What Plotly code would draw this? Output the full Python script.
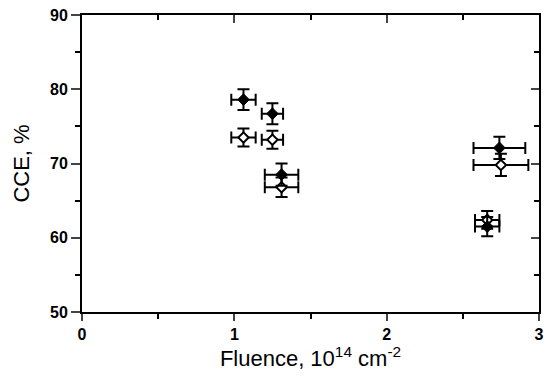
import plotly.graph_objects as go

# Charge collection efficiency vs. fluence
fluence_filled = [1.06, 1.25, 1.31, 2.66, 2.74]
cce_filled = [78.6, 76.7, 68.5, 61.5, 72.1]
fluence_err_filled = [0.08, 0.07, 0.11, 0.08, 0.17]
cce_err_filled = [1.4, 1.4, 1.5, 1.3, 1.5]

fluence_open = [1.06, 1.25, 1.31, 2.66, 2.75]
cce_open = [73.5, 73.2, 66.8, 62.4, 69.8]
fluence_err_open = [0.08, 0.07, 0.11, 0.08, 0.18]
cce_err_open = [1.2, 1.2, 1.3, 1.2, 1.5]

x_ticks = [0, 1, 2, 3]
y_ticks = [50, 60, 70, 80, 90]

FONT = "Liberation Sans, Arial, sans-serif"

def err(vals, w):
    return dict(type="data", array=vals, visible=True, color="black", thickness=2, width=w)

fig = go.Figure()
fig.add_trace(go.Scatter(
    x=fluence_open, y=cce_open, mode="markers",
    error_x=err(fluence_err_open, 6), error_y=err(cce_err_open, 6),
    marker=dict(symbol="diamond", size=8, color="white", line=dict(color="black", width=2)),
    showlegend=False, cliponaxis=False,
))
fig.add_trace(go.Scatter(
    x=fluence_filled, y=cce_filled, mode="markers",
    error_x=err(fluence_err_filled, 6), error_y=err(cce_err_filled, 6),
    marker=dict(symbol="diamond", size=9, color="black", line=dict(color="black", width=1)),
    showlegend=False, cliponaxis=False,
))
# empty trace so the top/right mirror axes get drawn
fig.add_trace(go.Scatter(x=[], y=[], xaxis="x2", yaxis="y2", showlegend=False))

tickfont = dict(family=FONT, size=16, color="black", weight="bold")
fig.update_layout(
    width=551, height=382,
    margin=dict(l=82, r=7, t=15, b=70),
    paper_bgcolor="white", plot_bgcolor="white",
    xaxis=dict(
        range=[0, 3], tickvals=x_ticks, ticks="outside", ticklen=7, tickwidth=2,
        minor=dict(dtick=0.5, ticks="outside", ticklen=5, tickwidth=2, tickcolor="black"),
        showline=True, linecolor="black", linewidth=2, showgrid=False, zeroline=False,
        tickfont=tickfont,
        title=dict(text="Fluence, 10<sup>14</sup> cm<sup>-2</sup>",
                   font=dict(family=FONT, size=22, color="black"), standoff=6),
    ),
    yaxis=dict(
        range=[50, 90], tickvals=y_ticks, ticks="outside", ticklen=9, tickwidth=2,
        minor=dict(dtick=5, ticks="outside", ticklen=5, tickwidth=2, tickcolor="black"),
        showline=True, linecolor="black", linewidth=2, showgrid=False, zeroline=False,
        tickfont=tickfont,
        title=dict(text="CCE, %", font=dict(family=FONT, size=22, color="black"), standoff=14),
    ),
    xaxis2=dict(
        range=[0, 3], overlaying="x", side="top", anchor="y", tickvals=x_ticks,
        ticks="inside", ticklen=8, tickwidth=2, showticklabels=False,
        minor=dict(dtick=0.5, ticks="inside", ticklen=5, tickwidth=2, tickcolor="black"),
        showline=True, linecolor="black", linewidth=2, showgrid=False, zeroline=False,
    ),
    yaxis2=dict(
        range=[50, 90], overlaying="y", side="right", anchor="x", tickvals=y_ticks,
        ticks="inside", ticklen=8, tickwidth=2, showticklabels=False,
        minor=dict(dtick=5, ticks="inside", ticklen=5, tickwidth=2, tickcolor="black"),
        showline=True, linecolor="black", linewidth=2, showgrid=False, zeroline=False,
    ),
)

fig.write_html("out.html")
